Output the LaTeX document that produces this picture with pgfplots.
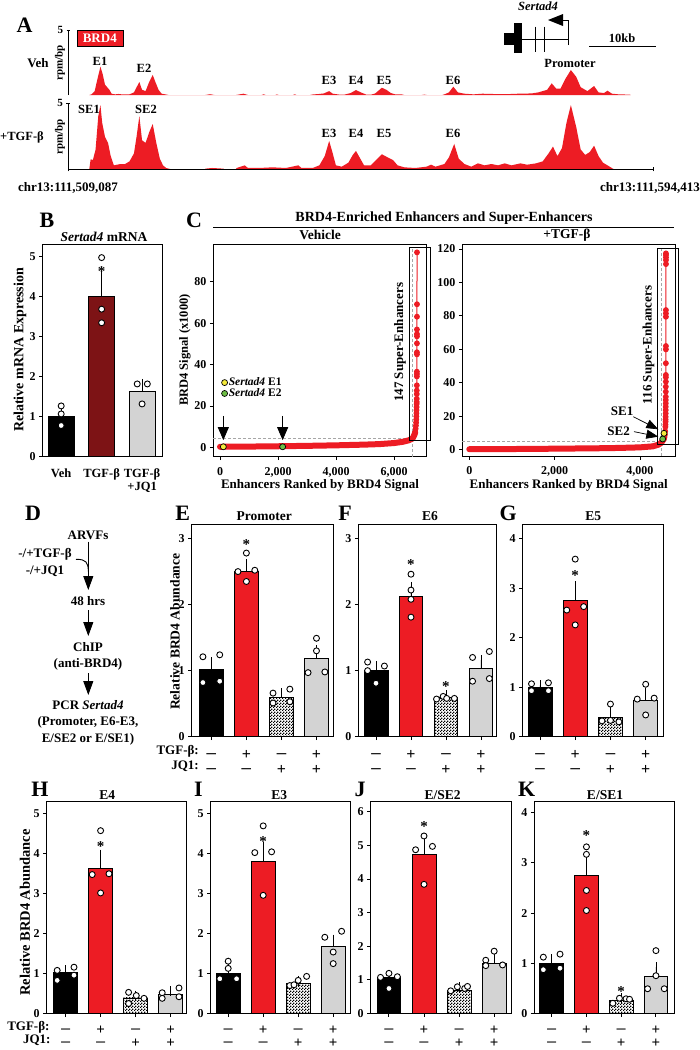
\documentclass[border=0pt]{standalone}
\usepackage{fontspec}
\setmainfont{Liberation Serif}
\usepackage{graphicx}
\usepackage{pgfplots}
\pgfplotsset{compat=1.18}
\usetikzlibrary{patterns,arrows.meta}
\definecolor{brdred}{HTML}{ED1C24}
\definecolor{darkred}{HTML}{7D1315}
\definecolor{lgray}{HTML}{D3D3D3}
\definecolor{seyellow}{HTML}{F5EB3C}
\definecolor{segreen}{HTML}{6DBE45}
\pgfdeclarepatternformonly{finecheck}{\pgfqpoint{0pt}{0pt}}{\pgfqpoint{2.6pt}{2.6pt}}{\pgfqpoint{2.6pt}{2.6pt}}{%
 \pgfpathrectangle{\pgfqpoint{0pt}{0pt}}{\pgfqpoint{1.3pt}{1.3pt}}%
 \pgfpathrectangle{\pgfqpoint{1.3pt}{1.3pt}}{\pgfqpoint{1.3pt}{1.3pt}}%
 \pgfusepath{fill}}
\newcommand{\fs}[1]{\fontsize{#1}{#1}\selectfont\bfseries}
\newcommand{\fss}[2]{\fontsize{#1}{#2}\selectfont\bfseries}
\newcommand{\mn}{\scalebox{1.3}[1]{−}}
\pgfplotsset{
 /pgf/number format/assume math mode=true,
 every axis/.append style={scale only axis, anchor=south west, axis line style={line width=0.9pt},
   tick style={black, line width=0.9pt}, major tick length=3.5pt, tick align=outside,
   tick label style={font=\fs{12}}, clip=false},
 barp/.style={ymin=0, xtick={0,1,2,3}, xtick pos=bottom, ytick pos=left,
   xticklabels={{\strut\mn\\\mn},{\strut+\\\mn},{\strut\mn\\+},{\strut+\\+}},
   xticklabel style={align=center, font=\fss{16}{15}, inner sep=0pt, yshift=-8.5pt}},
 barpb/.style={barp, xticklabel style={font=\fss{15}{13.4}, yshift=0.6pt}},
 bsty/.style={ybar, bar width=0.68, bar shift=0pt, draw=black, line width=0.8pt,
   /pgfplots/error bars/y dir=plus, /pgfplots/error bars/y explicit,
   /pgfplots/error bars/error bar style={line width=0.8pt, black},
   /pgfplots/error bars/error mark options={mark size=5pt, line width=0.8pt, black}},
 dsty/.style={only marks, mark=*, mark size=3pt, mark options={fill=white, draw=black, line width=0.9pt}},
}
\newcommand{\fourbars}[8]{%
 \addplot[bsty, fill=black] coordinates {(0,#1) +- (0,#2)};
 \addplot[bsty, fill=brdred] coordinates {(1,#3) +- (0,#4)};
 \addplot[bsty, pattern=finecheck] coordinates {(2,#5) +- (0,#6)};
 \addplot[bsty, fill=lgray] coordinates {(3,#7) +- (0,#8)};}
\begin{document}
\bfseries
\begin{tikzpicture}
\fill[white] (0pt,0pt) rectangle (700pt,-1050pt);
\path[use as bounding box] (0pt,0pt) rectangle (700pt,-1050pt);

% ---------------- A: tracks
\begin{axis}[at={(68.3pt,-95pt)}, width=584.7pt, height=65pt, xmin=0, xmax=85.326, ymin=0, ymax=5,
  axis x line=none, axis y line=left, axis line style={-}, ytick={5}, xtick=\empty,
  yticklabel style={font=\fs{11}}, axis on top]
\addplot[fill=brdred, draw=none] coordinates {(3.06,0) (3.39,0.05) (3.85,0.3) (4.24,1.2) (4.69,2.18) (5.02,1.6) (5.35,0.8) (5.67,0.6) (6.00,0.4) (6.32,0.1) (6.84,0.05) (7.30,0.08) (7.95,0.04) (8.93,0.05) (9.58,0.2) (9.97,0.6) (10.37,1.0) (10.76,0.4) (11.28,0.3) (11.80,1.0) (12.32,1.54) (12.71,1.0) (13.17,0.4) (13.62,0.1) (14.47,0.02) (14.6,0) (20.0,0) (20.67,0.06) (21.32,0) (24.5,0) (25.55,0.1) (26.21,0) (28.2,0) (28.49,0.05) (28.8,0) (30.2,0) (30.44,0.04) (30.7,0) (32.8,0) (33.05,0.05) (33.3,0) (35.3,0) (35.66,0.04) (36.64,0.08) (37.29,0.12) (38.07,0.3) (38.59,0.1) (39.57,0.03) (40.2,0.02) (41.20,0.15) (41.98,0.38) (42.70,0.2) (43.48,0.03) (44.2,0.03) (44.79,0.12) (45.76,0.56) (46.42,0.4) (47.07,0.15) (47.72,0.05) (48.70,0.04) (49,0) (51.6,0) (51.96,0.03) (52.3,0) (54.6,0) (54.89,0.05) (55.54,0.2) (56.19,0.64) (56.85,0.2) (57.82,0.1) (59.13,0.05) (60.43,0.1) (61.74,0.08) (63.69,0.06) (65.65,0.1) (67.60,0.12) (68.58,0.2) (69.88,0.4) (70.54,0.9) (71.19,0.5) (71.84,0.5) (72.49,1.2) (73.34,1.92) (74.12,1.4) (74.77,0.6) (75.75,0.3) (76.73,0.69) (77.38,0.2) (78.16,0.15) (78.69,0.33) (79.34,0.1) (80.31,0.05) (81.94,0.03) (82.07,0)};
\end{axis}
\begin{axis}[at={(68.3pt,-169.3pt)}, width=584.7pt, height=66pt, xmin=0, xmax=85.326, ymin=0, ymax=5,
  axis x line=bottom, axis y line=left, axis line style={-}, ytick={5}, xtick={0,85.326}, xticklabels={{},{}},
  major tick length=4pt, yticklabel style={font=\fs{11}}, axis on top]
\addplot[fill=brdred, draw=none] coordinates {(3.06,0) (3.26,0.76) (3.59,0.7) (3.98,1.5) (4.37,4.0) (4.69,4.87) (4.95,3.5) (5.35,2.47) (5.80,2.0) (6.19,1.0) (6.65,0.3) (7.11,0.35) (7.63,0.4) (8.28,0.4) (8.93,0.6) (9.58,1.2) (9.97,2.5) (10.37,4.04) (10.76,2.2) (11.28,2.0) (11.80,2.8) (12.32,3.43) (12.84,2.0) (13.36,0.8) (13.82,0.3) (14.28,0.1) (14.80,0.03) (15,0) (19.9,0) (20.01,0.05) (20.99,0.1) (22.62,0.05) (22.8,0) (24.4,0) (24.58,0.1) (25.75,0.3) (26.21,0.1) (27.84,0.1) (29.79,0.15) (31.75,0.1) (33.57,0.3) (34.03,0.1) (35.66,0.1) (36.64,0.3) (37.42,1.0) (38.07,2.15) (38.59,1.2) (39.05,0.3) (39.90,0.2) (40.87,0.5) (41.53,1.1) (41.98,1.39) (42.51,0.9) (43.16,0.3) (44.13,0.3) (44.92,0.7) (45.76,1.14) (46.61,0.9) (47.39,0.7) (48.05,0.3) (49.03,0.15) (50.65,0.1) (52.28,0.2) (52.94,0.35) (53.59,0.2) (54.89,0.4) (55.54,0.9) (56.32,1.92) (56.98,0.8) (57.82,0.4) (58.80,0.2) (59.78,0.45) (60.76,0.3) (61.74,0.4) (62.71,0.3) (63.69,0.45) (64.67,0.3) (65.97,0.45) (66.95,0.35) (68.25,0.45) (69.23,0.6) (70.08,1.2) (70.73,1.72) (71.38,1.0) (72.04,1.6) (72.69,3.5) (73.34,4.87) (74.12,3.2) (74.77,1.5) (75.43,1.09) (76.08,1.3) (76.73,1.79) (77.38,1.0) (78.03,0.5) (79.00,0.2) (79.47,0.05) (79.67,0)};
\end{axis}

% ---------------- B
\begin{axis}[at={(42.7pt,-456.7pt)}, width=119.6pt, height=212.7pt, xmin=-0.457, xmax=2.5, ymin=0, ymax=5.32,
  ytick={0,...,5}, ytick pos=left, xtick={0,1,2}, xticklabels={{\strut Veh},{\strut TGF-β},{\strut TGF-β\\+JQ1}},
  xtick style={draw=none}, xticklabel style={align=center, font=\fss{12.5}{13.3}, inner sep=0pt, yshift=-7.7pt}]
\addplot[bsty, bar width=0.64, fill=black] coordinates {(0,1.02) +- (0,0.15)};
\addplot[bsty, bar width=0.64, fill=darkred] coordinates {(1,4.0) +- (0,0.52)};
\addplot[bsty, bar width=0.64, fill=lgray] coordinates {(2,1.64) +- (0,0.18)};
\addplot[dsty] coordinates {(0,1.27) (0,1.07) (0,0.78) (1,4.98) (1,3.69) (1,3.35) (1.88,1.82) (2.13,1.82) (2,1.32)};
\node[font=\fs{15}, yshift=-3pt] at (axis cs:1,4.7) {*};
\end{axis}

% ---------------- C vehicle
\begin{axis}[at={(213.3pt,-456.7pt)}, width=212.7pt, height=212pt, xmin=-231, xmax=7103, ymin=-4.5, ymax=98,
  xtick={0,2000,4000,6000}, ytick={0,20,40,60,80}, xtick pos=bottom, ytick pos=left, scaled ticks=false,
  /pgf/number format/1000 sep={,}, xticklabel style={yshift=-5pt, inner sep=2pt},
  legend style={at={(0.024,0.388)}, anchor=north west, draw=none, fill=none, font=\fs{11.5}, nodes={inner sep=1.2pt}, row sep=-1pt},
  legend cell align=left, legend image code/.code={\draw[#1] plot coordinates {(0pt,0pt)};}]
\addplot[forget plot, color=gray!70, dash pattern=on 3pt off 2pt, line width=0.8pt] coordinates {(-231,4.5) (6645,4.5)};
\addplot[forget plot, color=gray!70, dash pattern=on 3pt off 2pt, line width=0.8pt] coordinates {(6645,-4.5) (6645,97)};
\addplot[forget plot, brdred, line width=6pt, line cap=round] coordinates {(0,0.3) (300,0.35) (1000,0.4) (2000,0.55) (3000,0.75) (4000,1.0) (5000,1.35) (5500,1.6) (6000,2.1) (6300,2.7) (6500,3.4) (6600,4.0) (6650,4.6) (6700,6) (6730,7.3)};
\addplot[forget plot, brdred, line width=1pt, mark=*, mark size=2.4pt, mark options={fill=brdred, draw=brdred}] coordinates {(6700,6) (6730,7.3) (6745,9) (6755,10.5) (6762,12) (6767,13.5) (6771,15) (6774,16.5) (6777,18) (6779,19.5) (6781,21) (6783,22) (6784,23.5) (6785,25.8) (6786,27.5) (6787,30) (6788,34.3) (6789,35.5) (6789,36.6) (6790,45) (6790,46) (6791,50.3) (6791,53.7) (6791,54.8) (6791,57) (6792,63.2) (6792,69.2) (6793,94.3)};
\addplot[draw=none, mark=*, mark size=3pt, mark options={fill=seyellow, draw=black, line width=0.7pt}] coordinates {(115,0.3)};
\addlegendentry{\textit{Sertad4} E1}
\addplot[draw=none, mark=*, mark size=3pt, mark options={fill=segreen, draw=black, line width=0.7pt}] coordinates {(2160,0.3)};
\addlegendentry{\textit{Sertad4} E2}
\draw[line width=0.9pt] (axis cs:6527,3.2) rectangle (axis cs:7241,96.8);
\draw[line width=0.8pt, -{Triangle[length=13pt,width=11pt]}] (axis cs:115,15.3) -- (axis cs:115,3.5);
\draw[line width=0.8pt, -{Triangle[length=13pt,width=11pt]}] (axis cs:2160,15.3) -- (axis cs:2160,3.5);
\node[rotate=90, font=\fs{13}] at (axis cs:6207,50.8) {147 Super-Enhancers};
\end{axis}

% ---------------- C TGF
\begin{axis}[at={(462.3pt,-456pt)}, width=212.7pt, height=212pt, xmin=-164, xmax=4821, ymin=-3.77, ymax=123,
  xtick={0,2000,4000}, ytick={0,20,...,120}, xtick pos=bottom, ytick pos=left, scaled ticks=false,
  /pgf/number format/1000 sep={,}, xticklabel style={yshift=-5pt, inner sep=2pt}]
\addplot[color=gray!70, dash pattern=on 3pt off 2pt, line width=0.8pt] coordinates {(-164,4.8) (4493,4.8)};
\addplot[color=gray!70, dash pattern=on 3pt off 2pt, line width=0.8pt] coordinates {(4493,-3.77) (4493,121)};
\addplot[brdred, line width=6pt, line cap=round] coordinates {(0,0.3) (1000,0.4) (2000,0.6) (3000,0.85) (3500,1.05) (4000,1.4) (4300,2.0) (4430,3.0) (4490,4.0) (4530,5.3) (4560,6.5)};
\addplot[brdred, line width=1pt, mark=*, mark size=2.4pt, mark options={fill=brdred, draw=brdred}] coordinates {(4560,6.5) (4575,7.5) (4585,9) (4592,11) (4596,13.7) (4598,15) (4600,16.7) (4601,18) (4602,19.7) (4603,21.7) (4604,23.7) (4604,25.7) (4605,27.7) (4605,29.7) (4606,31.7) (4606,34.7) (4606,37.7) (4607,40.7) (4607,43.3) (4607,44.7) (4607,51.7) (4608,60) (4608,62) (4608,79.5) (4608,81.5) (4608,83.5) (4609,111) (4609,113.4) (4609,115) (4609,116.4) (4609,117.4)};
\addplot[draw=none, mark=*, mark size=3pt, mark options={fill=seyellow, draw=black, line width=0.7pt}] coordinates {(4563,9.8)};
\addplot[draw=none, mark=*, mark size=3pt, mark options={fill=segreen, draw=black, line width=0.7pt}] coordinates {(4532,6.4)};
\draw[line width=0.9pt] (axis cs:4398,3.4) rectangle (axis cs:4906,120.4);
\draw[line width=0.7pt, -{Triangle[length=12pt,width=9pt]}] (axis cs:3844,19.7) -- (axis cs:4430,12.2);
\draw[line width=0.7pt, -{Triangle[length=12pt,width=9pt]}] (axis cs:3860,10.8) -- (axis cs:4430,7.8);
\node[font=\fs{13}, anchor=east] at (axis cs:3927,22.7) {SE1};
\node[font=\fs{13}, anchor=east] at (axis cs:3844,11.3) {SE2};
\node[rotate=90, font=\fs{13}] at (axis cs:4198,62.6) {116 Super-Enhancers};
\end{axis}

% ---------------- E
\begin{axis}[barp, at={(191.7pt,-736.7pt)}, width=141.6pt, height=212.7pt, xmin=-0.56, xmax=3.48, ymax=3.22, ytick={0,1,2,3}]
\fourbars{1.02}{0.11}{2.51}{0.10}{0.59}{0.07}{1.18}{0.13}
\addplot[dsty] coordinates {(-0.24,1.21) (0.24,1.24) (-0.24,0.82) (0.24,0.84) (1,2.78) (0.76,2.5) (1.24,2.52) (1,2.35) (1.76,0.66) (2.24,0.72) (1.76,0.51) (2.24,0.53) (3,1.49) (3,1.3) (2.76,0.97) (3.24,0.98)};
\node[font=\fs{15}, yshift=-3pt] at (axis cs:1,2.95) {*};
\end{axis}
% ---------------- F
\begin{axis}[barp, at={(358.3pt,-736.7pt)}, width=138.4pt, height=212.7pt, xmin=-0.506, xmax=3.45, ymax=3.22, ytick={0,1,2,3}]
\fourbars{1.0}{0.07}{2.13}{0.14}{0.59}{0.04}{1.04}{0.12}
\addplot[dsty] coordinates {(-0.24,1.13) (-0.24,1.0) (0.24,1.07) (0,0.81) (1,2.46) (1,2.22) (1,2.08) (1,1.81) (1.73,0.57) (1.92,0.61) (2.02,0.58) (2.24,0.58) (3.24,1.29) (2.76,1.2) (2.76,0.84) (3.24,0.88)};
\node[font=\fs{15}, yshift=-3pt] at (axis cs:1,2.65) {*};
\node[font=\fs{15}, yshift=-3pt] at (axis cs:2,0.8) {*};
\end{axis}
% ---------------- G
\begin{axis}[barp, at={(522.7pt,-736.7pt)}, width=140.6pt, height=212.7pt, xmin=-0.49, xmax=3.5, ymax=4.3, ytick={0,1,2,3,4}]
\fourbars{1.0}{0.04}{2.75}{0.29}{0.39}{0.12}{0.74}{0.14}
\addplot[dsty] coordinates {(-0.24,1.07) (-0.24,0.93) (0.24,1.09) (0.24,0.93) (1,3.59) (0.76,2.56) (1.24,2.63) (1,2.26) (2,0.66) (1.76,0.32) (2,0.33) (2.24,0.3) (3,1.06) (2.76,0.76) (3.24,0.78) (3,0.44)};
\node[font=\fs{15}, yshift=-3pt] at (axis cs:1,3.31) {*};
\end{axis}
% ---------------- H
\begin{axis}[barpb, at={(46.7pt,-1013.5pt)}, width=140pt, height=212pt, xmin=-0.54, xmax=3.46, ymax=5.31, ytick={0,...,5}]
\fourbars{1.02}{0.06}{3.63}{0.35}{0.39}{0.06}{0.475}{0.085}
\addplot[dsty] coordinates {(-0.24,1.08) (0.24,1.16) (-0.24,0.83) (0.24,0.96) (1,4.58) (0.76,3.48) (1.24,3.5) (1,3.02) (1.8,0.53) (2.02,0.45) (2.24,0.38) (1.8,0.25) (3.24,0.64) (2.76,0.52) (2.76,0.38) (3.24,0.42)};
\node[font=\fs{15}, yshift=-3pt] at (axis cs:1,4.25) {*};
\end{axis}
% ---------------- I
\begin{axis}[barpb, at={(210.7pt,-1013.5pt)}, width=139.3pt, height=212pt, xmin=-0.5, xmax=3.48, ymax=5.31, ytick={0,...,5}]
\fourbars{1.01}{0.13}{3.81}{0.37}{0.75}{0.07}{1.67}{0.18}
\addplot[dsty] coordinates {(0,1.31) (0,1.13) (-0.24,0.87) (0.24,0.87) (1,4.7) (0.76,4.03) (1.24,4.05) (1,2.96) (1.76,0.7) (2.0,0.83) (2.24,0.93) (1.88,0.72) (3.24,2.06) (2.76,1.91) (3,1.54) (3,1.25)};
\node[font=\fs{15}, yshift=-3pt] at (axis cs:1,4.37) {*};
\end{axis}
% ---------------- J
\begin{axis}[barpb, at={(370.7pt,-1013.3pt)}, width=141pt, height=211.6pt, xmin=-0.52, xmax=3.5, ymax=6.3, ytick={0,...,6}]
\fourbars{1.07}{0.05}{4.72}{0.33}{0.69}{0.08}{1.5}{0.16}
\addplot[dsty] coordinates {(0,1.19) (-0.24,1.07) (0.24,1.09) (0,0.74) (1,5.28) (0.76,4.87) (1.24,4.97) (1,3.84) (1.76,0.67) (1.95,0.79) (2.16,0.74) (2.24,0.8) (3,1.85) (2.76,1.58) (3.24,1.44) (2.76,1.42)};
\node[font=\fs{15}, yshift=-3pt] at (axis cs:1,5.64) {*};
\end{axis}
% ---------------- K
\begin{axis}[barpb, at={(534.3pt,-1013.3pt)}, width=139.7pt, height=211.6pt, xmin=-0.5, xmax=3.52, ymax=4.22, ytick={0,...,4}]
\fourbars{1.0}{0.08}{2.75}{0.3}{0.25}{0.05}{0.73}{0.19}
\addplot[dsty] coordinates {(-0.24,1.12) (0.24,1.18) (-0.24,0.87) (0.24,0.9) (1,3.32) (1,3.17) (1,2.45) (1,2.05) (1.76,0.2) (1.95,0.3) (2.14,0.29) (2.24,0.28) (3,1.25) (3,0.75) (2.76,0.49) (3.24,0.49)};
\node[font=\fs{15}, yshift=-3pt] at (axis cs:1,3.6) {*};
\node[font=\fs{15}, yshift=-3pt] at (axis cs:2,0.5) {*};
\end{axis}

% ---------------- annotations
\begin{scope}[x=1pt,y=-1pt]
\foreach \t/\xx/\yy in {A/24.5/25, B/47/220, C/194/220, D/33/513, E/182.7/513, F/345/513, G/508.3/513, H/40/789.3, I/198.3/789.3, J/360/789.3, K/526.7/789.3}
  \node[font=\fs{22}] at (\xx,\yy) {\t};
% A
\node[fill=brdred, draw=black, line width=0.6pt, text=white, font=\fs{13}, minimum width=46pt, minimum height=16pt, inner sep=0pt] at (99.8,38.7) {BRD4};
\node[font=\fs{13}] at (38,63) {Veh};
\node[font=\fs{12.5}, anchor=west, inner sep=0pt] at (0,137) {+TGF-β};
\node[font=\fs{11}, rotate=90] at (60,63) {rpm/bp};
\node[font=\fs{11}, rotate=90] at (60,137) {rpm/bp};
\foreach \t/\xx/\yy in {E1/100/61, E2/144/68, E3/329/80, E4/356/80, E5/384/80, E6/453/80, Promoter/570/63, SE1/89/109, SE2/146/109, E3/329/133, E4/356/133, E5/384/133, E6/453/133}
  \node[font=\fs{12.5}] at (\xx,\yy) {\t};
\node[font=\fs{13}, anchor=west, inner sep=0pt] at (18,188) {chr13:111,509,087};
\node[font=\fs{13}, anchor=east, inner sep=0pt] at (700,188) {chr13:111,594,413};
% gene
\fill[black] (503.6,32.7) rectangle (514.3,45);
\fill[black] (514.3,23.3) rectangle (522.3,53.3);
\draw[line width=1pt] (522.3,39) -- (568,39);
\draw[line width=1.3pt] (535.7,26.7) -- (535.7,52.3);
\draw[line width=1.3pt] (544.6,26.7) -- (544.6,52.3);
\draw[line width=1pt] (568,45) -- (568,20) -- (560,20);
\fill[black] (548,20) -- (563,14) -- (563,26) -- cycle;
\node[font=\fs{12.5}\itshape] at (538,6) {Sertad4};
\draw[line width=1.2pt] (589,46.7) -- (656,46.7);
\node[font=\fs{12.5}] at (622,38) {10kb};
% B / C headers
\node[font=\fs{13.5}] at (104,237) {\textit{Sertad4} mRNA};
\node[font=\fs{14}, rotate=90] at (20,350) {Relative mRNA Expression};
\node[font=\fs{14}] at (444,218) {BRD4-Enriched Enhancers and Super-Enhancers};
\draw[line width=0.9pt] (213,227) -- (674,227);
\node[font=\fs{13.5}] at (320,235) {Vehicle};
\node[font=\fs{13.5}] at (567,235) {+TGF-β};
\node[font=\fs{12.5}, rotate=90] at (185,350) {BRD4 Signal (x1000)};
\node[font=\fs{13}, inner sep=0pt] at (320,485) {Enhancers Ranked by BRD4 Signal};
\node[font=\fs{13}, inner sep=0pt] at (568.7,485) {Enhancers Ranked by BRD4 Signal};
% D
\node[font=\fs{13}] at (88,535) {ARVFs};
\node[font=\fs{13}] at (45,554) {-/+TGF-β};
\node[font=\fs{13}] at (45,571.7) {-/+JQ1};
\draw[line width=0.9pt, -{Triangle[length=14pt,width=10pt]}] (88.3,541.7) -- (88.3,590);
\draw[line width=0.9pt] (76,559.3) .. controls (86,559.3) and (88.3,562) .. (88.3,571.7);
\node[font=\fs{13}] at (88,600.7) {48 hrs};
\draw[line width=0.9pt, -{Triangle[length=14pt,width=10pt]}] (88.3,610) -- (88.3,636);
\node[font=\fs{13}] at (88,646.7) {ChIP};
\node[font=\fs{13}] at (88,664) {(anti-BRD4)};
\draw[line width=0.9pt, -{Triangle[length=14pt,width=10pt]}] (88.3,673.3) -- (88.3,695);
\node[font=\fs{13}] at (88,705.5) {PCR \textit{Sertad4}};
\node[font=\fs{13}] at (88,722.3) {(Promoter, E6-E3,};
\node[font=\fs{13}] at (88,739) {E/SE2 or E/SE1)};
% E-K labels
\node[font=\fs{13.5}] at (264.3,516) {Promoter};
\node[font=\fs{13.5}] at (430,516) {E6};
\node[font=\fs{13.5}] at (593.3,516) {E5};
\node[font=\fs{13.5}] at (107.3,795) {E4};
\node[font=\fs{13.5}] at (279.3,795) {E3};
\node[font=\fs{13.5}] at (442.7,795) {E/SE2};
\node[font=\fs{13.5}] at (605,795) {E/SE1};
\node[font=\fs{13.6}, rotate=90] at (175,631.7) {Relative BRD4 Abundance};
\node[font=\fs{14.5}, rotate=90] at (25,912.5) {Relative BRD4 Abundance};
\node[font=\fs{13}, anchor=east, inner sep=1pt] at (200,751.7) {TGF-β:};
\node[font=\fs{13}, anchor=east, inner sep=1pt] at (200,766.7) {JQ1:};
\node[font=\fs{13}, anchor=east, inner sep=1pt] at (50.7,1027.3) {TGF-β:};
\node[font=\fs{13}, anchor=east, inner sep=0pt] at (50.7,1040.7) {JQ1:};
\end{scope}
\end{tikzpicture}
\end{document}
